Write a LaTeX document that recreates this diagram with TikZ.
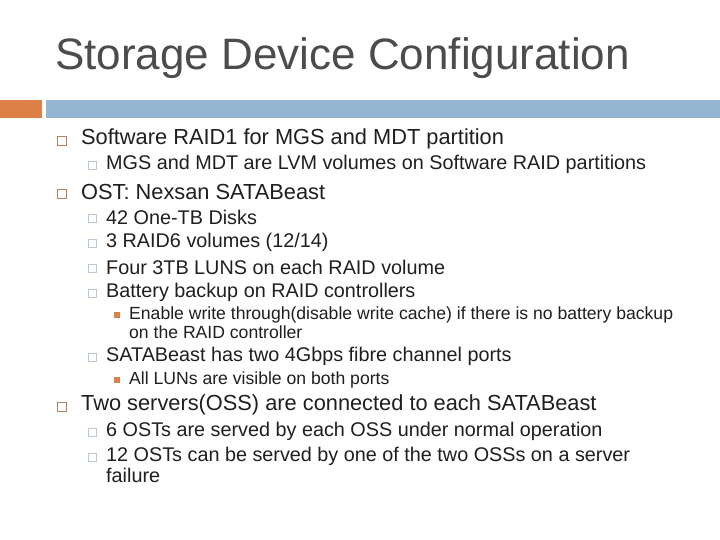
\documentclass[tikz,border=0pt]{standalone}
\usepackage{fontspec}
\setmainfont{Liberation Sans}
\definecolor{orbar}{HTML}{DD8047}
\definecolor{blbar}{HTML}{94B6D2}
\definecolor{box1}{HTML}{B08060}
\definecolor{box2}{HTML}{B8C8D8}
\begin{document}
\begin{tikzpicture}[x=1pt,y=-1pt,
  t1/.style={anchor=west,inner sep=0pt,font=\fontsize{21.8}{24}\selectfont,text=black!88},
  t2/.style={anchor=west,inner sep=0pt,font=\fontsize{19.8}{19}\selectfont,text=black!88},
  t3/.style={anchor=west,inner sep=0pt,font=\fontsize{17.6}{15}\selectfont,text=black!88,align=left},
  b1/.style={draw=box1,line width=0.6pt,minimum size=9pt,inner sep=0pt},
  b2/.style={draw=box2,line width=0.6pt,minimum size=8pt,inner sep=0pt},
  b3/.style={fill=orbar,minimum size=6.5pt,inner sep=0pt}]
\useasboundingbox (0,0) rectangle (720,540);
\fill[white] (0,0) rectangle (720,540);
\node[anchor=west,inner sep=0pt,font=\fontsize{44}{46}\selectfont,text=black!70] (title) at (55,58) {Storage Device Configuration};
\fill[orbar] (0,100) rectangle (42,118);
\fill[blbar] (46,100) rectangle (720,118);
\node[b1] (a1) at (62,141) {}; \node[t1] (s1) at (81,139) {Software RAID1 for MGS and MDT partition};
\node[b2] (a2) at (92,165) {}; \node[t2] (s2) at (106,164) {MGS and MDT are LVM volumes on Software RAID partitions};
\node[b1] (a3) at (62,194) {}; \node[t1] (s3) at (81,192) {OST: Nexsan SATABeast};
\node[b2] (a4) at (92,218) {}; \node[t2] (s4) at (106,217) {42 One-TB Disks};
\node[b2] (a5) at (92,243) {}; \node[t2] (s5) at (106,242) {3 RAID6 volumes (12/14)};
\node[b2] (a6) at (92,268) {}; \node[t2] (s6) at (106,267) {Four 3TB LUNS on each RAID volume};
\node[b2] (a7) at (92,293) {}; \node[t2] (s7) at (106,292) {Battery backup on RAID controllers};
\node[b3] (a8) at (117,315) {}; \node[t3] (s8) at (129,315) {Enable write through(disable write cache) if there is no battery backup};
\node[t3] (s8b) at (129,332) {on the RAID controller};
\node[b2] (a9) at (92,357) {}; \node[t2] (s9) at (106,356) {SATABeast has two 4Gbps fibre channel ports};
\node[b3] (a10) at (117,380) {}; \node[t3] (s10) at (129,380) {All LUNs are visible on both ports};
\node[b1] (a11) at (62,407) {}; \node[t1] (s11) at (81,405) {Two servers(OSS) are connected to each SATABeast};
\node[b2] (a12) at (92,432) {}; \node[t2] (s12) at (106,431) {6 OSTs are served by each OSS under normal operation};
\node[b2] (a13) at (92,457) {}; \node[t2] (s13) at (106,456) {12 OSTs can be served by one of the two OSSs on a server};
\node[t2] (s13b) at (106,475) {failure};
\end{tikzpicture}
\end{document}
